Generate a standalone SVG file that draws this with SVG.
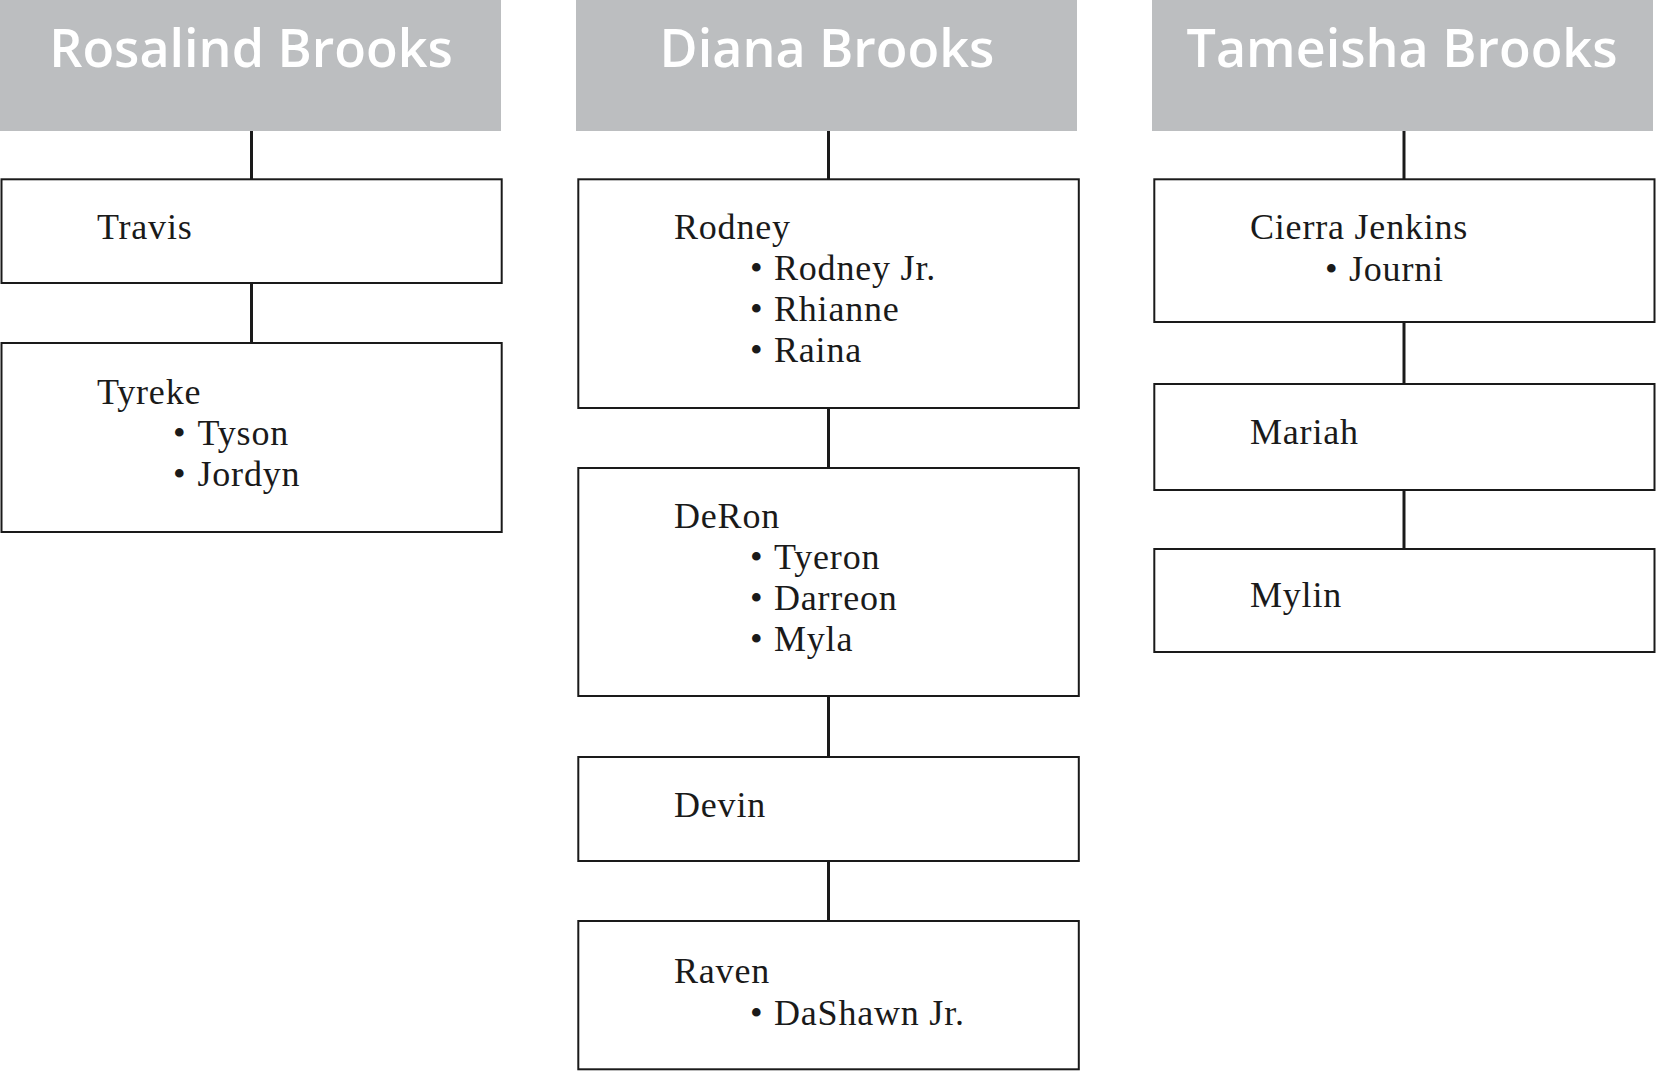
<svg xmlns="http://www.w3.org/2000/svg" width="1656" height="1090" viewBox="0 0 1656 1090">
<style>
.hdr{fill:#bcbec0}
.htxt{font-family:"Open Sans","Liberation Sans",sans-serif;font-weight:600;font-size:52px;fill:#ffffff;text-anchor:middle}
.box{fill:#ffffff;stroke:#1a1a1a;stroke-width:2}
.t{font-family:"Liberation Serif","DejaVu Serif",serif;font-size:36px;fill:#1a1a1a;letter-spacing:0.8px}
.con{stroke:#1a1a1a;stroke-width:3;fill:none}
</style>
<rect width="1656" height="1090" fill="#ffffff"/>
<g id="connectors">
<line class="con" x1="251.5" y1="131" x2="251.5" y2="179.3"/>
<line class="con" x1="251.5" y1="283" x2="251.5" y2="343"/>
<line class="con" x1="828.5" y1="131" x2="828.5" y2="179.3"/>
<line class="con" x1="828.5" y1="408" x2="828.5" y2="468"/>
<line class="con" x1="828.5" y1="696" x2="828.5" y2="757"/>
<line class="con" x1="828.5" y1="861" x2="828.5" y2="921"/>
<line class="con" x1="1404" y1="131" x2="1404" y2="179.3"/>
<line class="con" x1="1404" y1="322" x2="1404" y2="384"/>
<line class="con" x1="1404" y1="490" x2="1404" y2="549"/>
</g>
<g id="hdr-rosalind">
<rect class="hdr" x="0" y="0" width="501" height="131"/>
<text class="htxt" x="251" y="67">Rosalind Brooks</text>
</g>
<g id="hdr-diana">
<rect class="hdr" x="576" y="0" width="501" height="131"/>
<text class="htxt" x="827" y="67">Diana Brooks</text>
</g>
<g id="hdr-tameisha">
<rect class="hdr" x="1152" y="0" width="501" height="131"/>
<text class="htxt" x="1402" y="67">Tameisha Brooks</text>
</g>
<g id="node-travis">
<rect class="box" x="1.5" y="179.3" width="500.2" height="103.7"/>
<text class="t" x="97" y="239">Travis</text>
</g>
<g id="node-tyreke">
<rect class="box" x="1.5" y="343" width="500.2" height="189"/>
<text class="t" x="97" y="404">Tyreke</text>
<text class="t" x="173" y="445">• <tspan x="197.5">Tyson</tspan></text>
<text class="t" x="173" y="486">• <tspan x="197.5">Jordyn</tspan></text>
</g>
<g id="node-rodney">
<rect class="box" x="578.3" y="179.3" width="500.5" height="228.7"/>
<text class="t" x="674" y="239">Rodney</text>
<text class="t" x="750" y="280">• <tspan x="774">Rodney Jr.</tspan></text>
<text class="t" x="750" y="321">• <tspan x="774">Rhianne</tspan></text>
<text class="t" x="750" y="362">• <tspan x="774">Raina</tspan></text>
</g>
<g id="node-deron">
<rect class="box" x="578.3" y="468" width="500.5" height="228"/>
<text class="t" x="674" y="528">DeRon</text>
<text class="t" x="750" y="569">• <tspan x="774">Tyeron</tspan></text>
<text class="t" x="750" y="610">• <tspan x="774">Darreon</tspan></text>
<text class="t" x="750" y="651">• <tspan x="774">Myla</tspan></text>
</g>
<g id="node-devin">
<rect class="box" x="578.3" y="757" width="500.5" height="104"/>
<text class="t" x="674" y="817">Devin</text>
</g>
<g id="node-raven">
<rect class="box" x="578.3" y="921" width="500.5" height="148.3"/>
<text class="t" x="674" y="983">Raven</text>
<text class="t" x="750" y="1025">• <tspan x="774">DaShawn Jr.</tspan></text>
</g>
<g id="node-cierra">
<rect class="box" x="1154.3" y="179.3" width="500.2" height="142.7"/>
<text class="t" x="1250" y="239">Cierra Jenkins</text>
<text class="t" x="1325" y="281">• <tspan x="1349">Journi</tspan></text>
</g>
<g id="node-mariah">
<rect class="box" x="1154.3" y="384" width="500.2" height="106"/>
<text class="t" x="1250" y="444">Mariah</text>
</g>
<g id="node-mylin">
<rect class="box" x="1154.3" y="549" width="500.2" height="103"/>
<text class="t" x="1250" y="607">Mylin</text>
</g>
</svg>
